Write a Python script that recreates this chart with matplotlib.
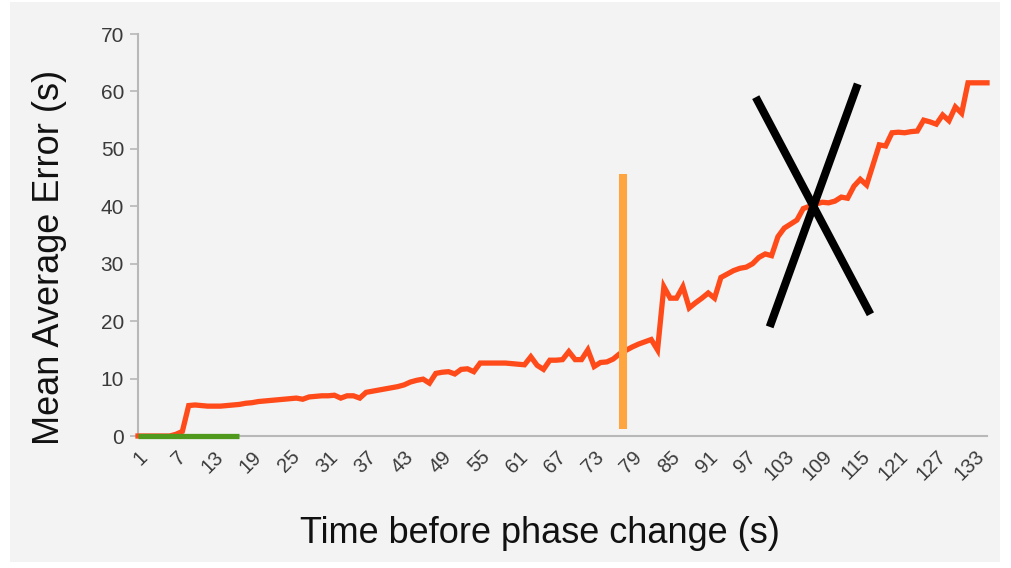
import matplotlib
matplotlib.use("Agg")
import matplotlib.pyplot as plt
from matplotlib.patches import Rectangle

plt.rcParams['font.family'] = ['Liberation Sans', 'DejaVu Sans']

# Mean average error per second before the phase change (t = 1 .. 135)
times = list(range(1, 136))
mean_error = [
    0, 0, 0, 0, 0, 0, 0.3, 0.8, 5.3, 5.4,
    5.3, 5.2, 5.2, 5.2, 5.3, 5.4, 5.5, 5.7, 5.8, 6.0,
    6.1, 6.2, 6.3, 6.4, 6.5, 6.6, 6.4, 6.8, 6.9, 7.0,
    7.0, 7.1, 6.6, 7.0, 7.0, 6.6, 7.6, 7.8, 8.0, 8.2,
    8.4, 8.6, 8.9, 9.4, 9.7, 9.9, 9.2, 10.9, 11.1, 11.2,
    10.8, 11.6, 11.7, 11.2, 12.7, 12.7, 12.7, 12.7, 12.7, 12.6,
    12.5, 12.4, 13.8, 12.3, 11.6, 13.2, 13.2, 13.3, 14.7, 13.3,
    13.3, 15.0, 12.1, 12.8, 12.9, 13.4, 14.3, 14.9, 15.5, 16.0,
    16.4, 16.8, 15.0, 26.0, 24.0, 24.0, 26.0, 22.3, 23.2, 24.0,
    24.9, 24.0, 27.6, 28.2, 28.8, 29.2, 29.4, 30.0, 31.1, 31.7,
    31.4, 34.7, 36.2, 36.9, 37.6, 39.6, 40.0, 40.4, 40.7, 40.6,
    40.9, 41.6, 41.4, 43.5, 44.7, 43.7, 47.2, 50.7, 50.5, 52.8,
    52.9, 52.8, 53.0, 53.1, 55.0, 54.7, 54.3, 55.9, 54.9, 57.3,
    56.2, 61.5, 61.5, 61.5, 61.5,
]

# Baseline segment along zero
baseline_x = [1, 17]
baseline_y = [0, 0]

# Vertical marker
marker_x = [77.6, 77.6]
marker_y = [1.2, 45.6]

# Cross strokes
cross_a_x = [98.5, 116.6]
cross_a_y = [59.0, 21.2]
cross_b_x = [114.6, 100.7]
cross_b_y = [61.3, 19.0]

x_ticks = list(range(1, 136, 6))
y_ticks = [0, 10, 20, 30, 40, 50, 60, 70]

W, H = 1011, 568
fig = plt.figure(figsize=(W / 100, H / 100), dpi=100)
fig.patch.set_facecolor('white')
fig.patches.append(Rectangle((10 / W, 6 / H), 990 / W, 560 / H,
                             transform=fig.transFigure, facecolor='#f3f3f3',
                             edgecolor='none', zorder=-1))

ax = fig.add_axes([138 / W, 132 / H, 849 / W, 402 / H])
ax.set_facecolor('none')

ax.plot(times, mean_error, color='#ff4a1a', lw=3.8, solid_joinstyle='miter',
        clip_on=False, zorder=3)
ax.plot(baseline_x, baseline_y, color='#4f9a1c', lw=3.8, solid_capstyle='butt',
        clip_on=False, zorder=4)
ax.plot(marker_x, marker_y, color='#ffa53f', lw=5.8, solid_capstyle='butt', zorder=5)
ax.plot(cross_a_x, cross_a_y, color='black', lw=5.8, solid_capstyle='butt', zorder=6)
ax.plot(cross_b_x, cross_b_y, color='black', lw=5.8, solid_capstyle='butt', zorder=6)

ax.set_xlim(1, 135)
ax.set_ylim(0, 70)
ax.set_xticks(x_ticks)
ax.set_xticklabels([str(t) for t in x_ticks], rotation=45, ha='right', va='top',
                   rotation_mode='anchor', fontsize=14.5, color='#3a3a3a')
ax.set_yticks(y_ticks)
ax.set_yticklabels([str(t) for t in y_ticks], fontsize=15, color='#3a3a3a')

for side in ('top', 'right'):
    ax.spines[side].set_visible(False)
for side in ('left', 'bottom'):
    ax.spines[side].set_color('#b8b8b8')
    ax.spines[side].set_linewidth(1.5)

ax.tick_params(axis='y', length=6, width=1.2, color='#b8b8b8', pad=4)
ax.tick_params(axis='x', length=0, pad=8)

ax.set_xlabel('Time before phase change (s)', fontsize=26, color='#111111', va='center')
ax.set_ylabel('Mean Average Error (s)', fontsize=26, color='#111111', va='center')
ax.xaxis.set_label_coords(0.473, -0.243)
ax.yaxis.set_label_coords(-0.104, 0.445)

fig.savefig('out.png', dpi=100, facecolor=fig.get_facecolor())
